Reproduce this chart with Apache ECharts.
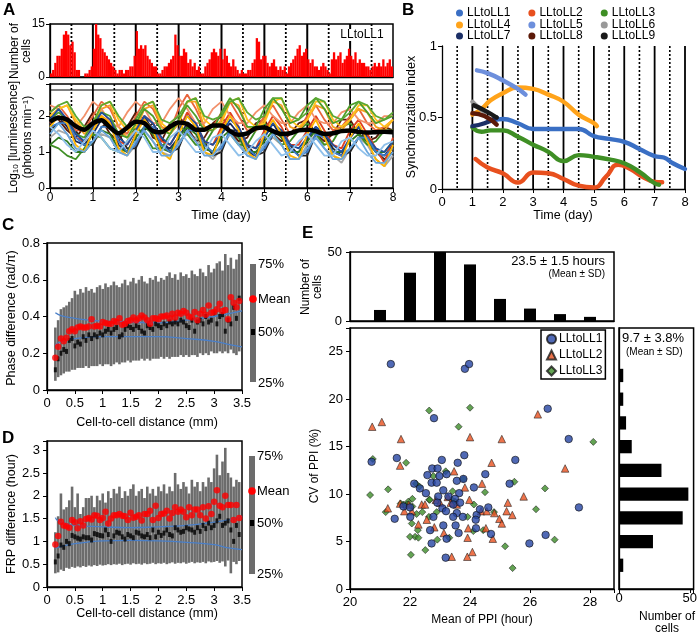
<!DOCTYPE html>
<html>
<head>
<meta charset="utf-8">
<script src="https://cdn.jsdelivr.net/npm/echarts@6/dist/echarts.min.js"></script>
<style>html,body{margin:0;padding:0;background:#fff;}#chart{width:700px;height:637px;}</style>
</head>
<body>
<div id="chart"></div>
<script>
const F = "'Liberation Sans', Arial, Helvetica, sans-serif";

// ---------------- Panel A ----------------
const solidDaysA = [1,2,3,4,5,6,7];
const dottedDays = [0.5,1.5,2.5,3.5,4.5,5.5,6.5,7.5];
const solidDaysB = [1,2,3,4,5,6,7,8];
const peakBinStart = 0.025, peakBinWidth = 0.05;
const peakCounts = [
  1,2,4,6,6,8,12,13,12,9,10,7,2,2,0,0,1,1,2,3,
  8,15,12,11,8,7,6,5,4,3,2,1,2,2,1,2,2,3,3,6,
  13,8,9,8,9,6,5,4,3,3,1,1,2,3,3,4,5,6,12,9,
  6,6,8,7,4,5,3,4,2,3,1,1,3,4,5,7,8,7,6,8,
  5,8,6,4,3,5,3,2,1,2,1,1,2,2,4,5,11,10,5,6,
  6,4,3,4,5,3,2,3,2,3,1,3,4,5,6,8,9,6,7,8,
  5,4,5,3,3,2,3,4,3,2,1,5,7,5,6,7,4,5,6,8,
  6,5,7,4,5,4,4,3,3,2,3,4,3,4,3,5,3,4,5,3
];
const traceStep = 0.2;
const trGray = [1.4,1.6,1.5,1.1,1.0,1.3,1.5,1.4,1.0,0.9,1.2,1.6,1.3,1.0,0.9,1.3,1.5,1.4,1.0,0.8,1.1,1.5,1.3,0.9,0.9,1.2,1.4,1.2,0.8,0.8,1.2,1.5,1.1,0.9,0.7,1.1,1.4,1.2,0.8,0.6,0.9];
const trBlack = [1.6,1.8,1.9,1.6,1.2,1.2,1.7,1.8,1.5,1.1,1.1,1.6,1.8,1.4,1.0,1.1,1.7,1.7,1.3,0.9,1.0,1.6,1.6,1.2,0.9,1.0,1.5,1.6,1.2,0.9,0.9,1.5,1.5,1.1,0.9,1.0,1.4,1.5,1.0,0.8,1.0];
const trNavy = [1.8,2.0,1.7,1.3,1.2,1.5,1.9,1.8,1.2,1.0,1.5,2.0,1.6,1.2,1.1,1.4,1.8,1.7,1.1,1.0,1.5,1.8,1.5,1.0,0.9,1.4,1.8,1.4,1.0,1.0,1.3,1.7,1.5,1.0,0.9,1.4,1.7,1.3,1.0,0.9,1.2];
const trBrown = [2.0,1.9,1.6,1.4,1.7,2.1,1.9,1.5,1.3,1.7,2.1,1.9,1.4,1.3,1.8,2.0,1.7,1.3,1.4,1.8,2.0,1.6,1.3,1.4,1.8,1.9,1.5,1.3,1.5,1.8,1.9,1.5,1.3,1.5,1.9,1.9,1.5,1.3,1.4,1.7,1.6];
const trDarkBlue = [1.9,2.2,1.9,1.5,1.3,1.7,2.1,1.9,1.4,1.2,1.6,2.0,1.8,1.4,1.2,1.6,2.0,1.8,1.3,1.2,1.5,1.9,1.7,1.2,1.1,1.4,1.8,1.6,1.2,1.1,1.4,1.7,1.5,1.2,1.0,1.4,1.7,1.4,1.1,1.0,1.3];
const trMidBlue = [1.7,1.8,1.8,1.4,1.2,1.3,1.7,1.7,1.3,1.0,1.2,1.7,1.7,1.2,1.0,1.2,1.6,1.6,1.2,1.0,1.1,1.6,1.5,1.1,0.9,1.1,1.5,1.5,1.1,0.9,1.0,1.5,1.4,1.0,0.9,1.1,1.4,1.4,1.0,0.9,1.1];
const trLightBlue = [1.5,1.8,1.5,1.1,1.0,1.3,1.6,1.4,1.0,0.9,1.3,1.6,1.3,0.9,0.9,1.2,1.6,1.3,0.9,0.9,1.2,1.5,1.2,0.9,0.8,1.2,1.5,1.2,0.8,0.8,1.1,1.4,1.1,0.8,0.8,1.1,1.4,1.0,0.7,0.7,1.0];
const trPaleBlue = [1.7,1.5,1.2,1.0,1.3,1.6,1.4,1.1,1.0,1.3,1.6,1.4,1.0,1.0,1.4,1.6,1.3,1.0,1.0,1.4,1.5,1.2,0.9,1.0,1.3,1.5,1.2,0.9,1.0,1.3,1.5,1.2,0.9,0.9,1.3,1.4,1.1,0.9,0.9,1.2,1.3];
const trYellow = [1.7,2.0,1.8,1.2,1.0,1.6,2.0,1.8,1.1,0.9,1.5,1.9,1.6,1.0,0.8,1.5,2.0,1.7,1.0,0.9,1.6,2.0,1.6,1.0,0.8,1.5,1.9,1.5,0.9,0.8,1.5,1.9,1.4,0.9,0.8,1.4,1.8,1.3,0.8,0.6,1.2];
const trGold = [2.0,2.2,2.3,1.9,1.6,1.8,2.3,2.4,1.9,1.6,1.7,2.3,2.4,1.8,1.6,1.8,2.4,2.5,1.9,1.7,1.8,2.4,2.5,1.9,1.7,1.8,2.4,2.5,1.9,1.7,1.9,2.4,2.4,1.9,1.7,1.9,2.3,2.3,1.9,1.7,1.9];
const trDarkGreen = [1.2,1.4,1.3,1.0,1.0,1.3,1.6,1.5,1.1,1.0,1.4,1.7,1.5,1.1,1.0,1.4,1.7,1.5,1.1,1.0,1.4,1.6,1.4,1.0,1.0,1.3,1.6,1.4,1.0,1.0,1.3,1.6,1.4,1.0,1.0,1.3,1.5,1.3,1.0,1.0,1.3];
const trSalmon = [2.1,2.3,2.0,1.6,1.6,2.0,2.4,2.2,1.7,1.5,2.0,2.4,2.2,1.7,1.6,2.2,2.6,2.2,1.7,1.7,2.1,2.4,2.0,1.6,1.6,2.0,2.3,1.9,1.5,1.6,2.0,2.3,1.9,1.6,1.7,2.0,2.2,1.8,1.6,1.7,1.9];
const trOrange = [2.0,2.2,2.3,1.8,1.5,1.7,2.2,2.3,1.7,1.4,1.6,2.2,2.3,1.7,1.5,1.8,2.4,2.4,1.7,1.6,1.9,2.4,2.3,1.7,1.6,1.9,2.4,2.3,1.7,1.6,1.9,2.3,2.2,1.7,1.6,1.9,2.2,2.1,1.7,1.6,1.9];
const trLightSalmon = [2.3,2.2,1.8,1.7,2.0,2.4,2.2,1.8,1.7,2.1,2.4,2.2,1.8,1.8,2.2,2.5,2.2,1.8,1.8,2.2,2.4,2.0,1.8,1.8,2.1,2.3,2.0,1.8,1.8,2.1,2.3,1.9,1.8,1.8,2.1,2.2,1.9,1.8,1.8,2.0,2.0];
const trGreen = [1.9,2.1,1.9,1.5,1.4,1.8,2.1,2.0,1.5,1.4,1.8,2.2,2.0,1.6,1.5,1.9,2.3,2.0,1.6,1.6,2.1,2.5,2.2,1.7,1.7,2.2,2.5,2.2,1.8,1.9,2.3,2.5,2.2,1.8,1.9,2.3,2.4,2.1,1.8,1.9,2.0];
const trGreenHigh = [2.1,2.3,2.4,2.0,1.7,1.8,2.3,2.4,2.0,1.7,1.9,2.3,2.4,1.9,1.8,2.0,2.4,2.5,2.0,1.9,2.0,2.4,2.5,2.1,1.9,2.0,2.5,2.5,2.0,1.9,2.1,2.5,2.4,2.0,1.9,2.1,2.4,2.3,2.0,1.9,2.1];
const trGreenLow = [1.2,1.1,0.9,0.8,1.1,1.5,1.4,1.1,1.0,1.3,1.7,1.5,1.1,1.1,1.5,1.8,1.5,1.2,1.2,1.6,1.8,1.5,1.2,1.2,1.6,1.8,1.5,1.2,1.3,1.6,1.8,1.5,1.2,1.3,1.7,1.8,1.5,1.2,1.3,1.6,1.6];
const trRed = [1.8,2.0,1.8,1.4,1.3,1.7,2.0,1.8,1.3,1.2,1.6,2.0,1.8,1.3,1.2,1.6,2.1,1.8,1.3,1.2,1.7,2.1,1.7,1.2,1.1,1.6,2.0,1.7,1.2,1.2,1.6,2.0,1.6,1.2,1.1,1.6,1.9,1.5,1.1,0.7,1.4];
const traceMean = [1.84,1.95,1.90,1.72,1.62,1.80,1.88,1.68,1.52,1.68,1.84,1.80,1.58,1.55,1.70,1.82,1.78,1.62,1.62,1.74,1.74,1.58,1.48,1.52,1.66,1.68,1.58,1.50,1.52,1.60,1.62,1.58,1.50,1.52,1.58,1.60,1.56,1.54,1.55,1.56,1.55];
const traceSet = [
  [trGray,'#a8a8a8'],[trBlack,'#262626'],[trNavy,'#17285e'],[trBrown,'#5a1c0a'],
  [trGreenLow,'#3f8f25'],[trRed,'#e04020'],[trDarkGreen,'#2f7a1f'],
  [trSalmon,'#e8643c'],[trOrange,'#f4a020'],[trLightSalmon,'#f2906a'],[trGold,'#ffc21a'],
  [trGreen,'#4f9e2a'],[trGreenHigh,'#5aa832'],
  [trDarkBlue,'#1f4e9c'],[trMidBlue,'#3d7cc9'],[trYellow,'#ffb400'],[trLightBlue,'#6aa6dc'],[trPaleBlue,'#8fc0ea']
];

// ---------------- Panel B ----------------
const syncNames = ['LLtoLL1','LLtoLL2','LLtoLL3','LLtoLL4','LLtoLL5','LLtoLL6','LLtoLL7','LLtoLL8','LLtoLL9'];
const syncColors = ['#3a6fc4','#e8501e','#3f8f25','#ffa31a','#6d8fdc','#999999','#1b2f66','#5c1a08','#1a1a1a'];
const syncT1 = [1.7,2.0,2.5,3.0,3.5,4.0,4.5,5.0,5.5,6.0,6.5,7.0,7.3,7.6,8.0];
const syncV1 = [0.48,0.49,0.46,0.42,0.42,0.42,0.42,0.37,0.35,0.33,0.28,0.23,0.22,0.18,0.14];
const syncT2 = [1.1,1.5,2.0,2.5,3.0,3.5,4.0,4.5,5.0,5.4,5.8,6.2,6.6,7.0,7.25];
const syncV2 = [0.21,0.15,0.11,0.045,0.115,0.11,0.07,0.023,0.01,0.086,0.17,0.14,0.086,0.05,0.047];
const syncT3 = [1.0,1.3,1.6,2.0,2.5,3.0,3.5,4.0,4.5,5.0,5.5,6.0,6.5,7.0,7.15];
const syncV3 = [0.43,0.40,0.41,0.41,0.365,0.31,0.26,0.195,0.237,0.225,0.207,0.18,0.12,0.04,0.03];
const syncT4 = [1.0,1.3,1.6,2.0,2.5,3.0,3.5,4.0,4.5,5.0,5.1];
const syncV4 = [0.52,0.56,0.62,0.67,0.71,0.70,0.66,0.61,0.52,0.46,0.44];
const syncT5 = [1.15,1.5,2.0,2.5,2.75];
const syncV5 = [0.83,0.81,0.76,0.70,0.66];
const syncT6 = [1.0,1.2,1.4];
const syncV6 = [0.61,0.57,0.54];
const syncT7 = [1.0,1.4,1.8];
const syncV7 = [0.44,0.46,0.50];
const syncT8 = [1.0,1.4,1.8];
const syncV8 = [0.53,0.51,0.45];
const syncT9 = [1.05,1.4,1.8];
const syncV9 = [0.585,0.55,0.50];
const syncT = [syncT1,syncT2,syncT3,syncT4,syncT5,syncT6,syncT7,syncT8,syncT9];
const syncV = [syncV1,syncV2,syncV3,syncV4,syncV5,syncV6,syncV7,syncV8,syncV9];

// ---------------- Panels C / D ----------------
const distStart = 0.15, distStep = 0.05;
const phaseMean = [0.175,0.235,0.28,0.265,0.285,0.32,0.33,0.32,0.34,0.345,0.34,0.34,0.345,0.385,0.345,0.35,0.345,0.37,0.365,0.36,0.36,0.375,0.37,0.39,0.355,0.36,0.375,0.38,0.395,0.38,0.39,0.405,0.395,0.38,0.36,0.39,0.39,0.385,0.40,0.40,0.405,0.39,0.415,0.395,0.42,0.415,0.43,0.42,0.40,0.395,0.425,0.38,0.415,0.435,0.41,0.46,0.42,0.425,0.44,0.47,0.43,0.435,0.385,0.505,0.475,0.45,0.485];
const phaseMedian = [0.11,0.17,0.20,0.22,0.21,0.27,0.28,0.24,0.26,0.25,0.29,0.27,0.30,0.28,0.30,0.29,0.31,0.30,0.32,0.33,0.31,0.33,0.34,0.29,0.30,0.33,0.35,0.34,0.33,0.35,0.34,0.32,0.31,0.35,0.34,0.33,0.36,0.35,0.34,0.36,0.35,0.37,0.36,0.37,0.36,0.38,0.37,0.35,0.34,0.38,0.32,0.37,0.38,0.36,0.40,0.37,0.38,0.42,0.36,0.40,0.41,0.32,0.38,0.36,0.45,0.39,0.50];
const phaseQ25 = [0.05,0.07,0.08,0.09,0.10,0.10,0.11,0.11,0.12,0.12,0.12,0.13,0.12,0.13,0.13,0.13,0.14,0.13,0.14,0.14,0.13,0.14,0.15,0.14,0.15,0.15,0.16,0.15,0.16,0.16,0.16,0.17,0.16,0.17,0.16,0.17,0.17,0.17,0.18,0.17,0.18,0.17,0.18,0.18,0.18,0.19,0.18,0.19,0.18,0.19,0.19,0.18,0.20,0.19,0.20,0.19,0.21,0.20,0.20,0.21,0.20,0.21,0.20,0.22,0.20,0.19,0.21];
const phaseQ75 = [0.34,0.38,0.44,0.45,0.46,0.48,0.50,0.54,0.52,0.55,0.53,0.56,0.54,0.55,0.53,0.56,0.57,0.55,0.58,0.56,0.57,0.59,0.57,0.56,0.58,0.60,0.57,0.59,0.61,0.58,0.60,0.62,0.59,0.58,0.61,0.60,0.62,0.59,0.61,0.60,0.62,0.64,0.61,0.63,0.60,0.64,0.62,0.63,0.61,0.65,0.63,0.62,0.66,0.64,0.62,0.68,0.64,0.66,0.69,0.70,0.65,0.74,0.68,0.72,0.66,0.71,0.74];
const phaseUpperX = [0.15,0.25,0.5,0.75,1.0,1.5,2.0,2.5,3.0,3.5];
const phaseUpperY = [0.42,0.405,0.39,0.38,0.375,0.37,0.365,0.38,0.40,0.43];
const phaseLowerX = [0.15,0.3,0.5,1.0,1.5,2.0,2.5,3.0,3.3,3.5];
const phaseLowerY = [0.245,0.27,0.28,0.29,0.29,0.29,0.28,0.265,0.245,0.235];

const frpMean = [0.93,1.12,1.43,1.35,1.33,1.30,1.47,1.42,1.29,1.44,1.35,1.49,1.51,1.48,1.57,1.56,1.47,1.51,1.65,1.39,1.50,1.57,1.57,1.60,1.56,1.55,1.47,1.63,1.52,1.54,1.57,1.46,1.60,1.60,1.67,1.47,1.78,1.51,1.60,1.61,1.67,1.50,1.62,1.75,1.65,1.70,1.65,1.53,1.75,1.57,1.70,1.70,1.57,1.75,1.50,1.77,1.60,1.87,2.12,1.78,1.75,2.00,1.80,1.80,1.47,1.80,1.51];
const frpMedian = [0.55,0.68,0.92,0.87,1.00,0.95,1.13,1.10,1.07,1.05,1.10,1.08,1.08,1.03,1.17,1.15,1.13,1.12,1.25,1.15,1.00,1.12,1.20,1.18,1.10,1.05,1.15,1.12,1.08,1.20,1.18,1.12,1.10,1.15,1.08,1.25,1.10,1.20,1.13,1.18,1.25,1.15,1.12,1.30,1.25,1.20,1.22,1.30,1.27,1.25,1.20,1.30,1.22,1.35,1.28,1.40,1.30,1.35,1.45,1.55,1.35,1.40,1.45,1.25,1.00,1.35,1.15];
const frpQ25 = [0.30,0.32,0.38,0.35,0.42,0.40,0.44,0.42,0.45,0.43,0.46,0.44,0.47,0.45,0.48,0.46,0.49,0.47,0.48,0.50,0.48,0.50,0.49,0.51,0.48,0.50,0.51,0.49,0.52,0.50,0.51,0.49,0.52,0.50,0.51,0.53,0.50,0.52,0.51,0.53,0.50,0.52,0.54,0.51,0.53,0.52,0.54,0.51,0.53,0.55,0.52,0.54,0.53,0.55,0.52,0.56,0.54,0.55,0.57,0.53,0.56,0.45,0.58,0.30,0.55,0.50,0.57];
const frpQ75 = [1.20,1.55,2.05,1.70,1.75,1.90,2.20,1.75,2.05,1.60,1.75,1.95,1.95,2.00,1.75,2.00,1.90,2.05,1.85,2.10,1.95,2.15,2.05,2.20,1.95,2.10,2.00,2.15,2.25,2.00,2.10,2.15,1.95,2.20,2.05,2.15,2.00,2.20,2.10,2.25,2.05,2.20,2.10,2.50,2.25,2.15,2.30,2.20,2.05,2.35,2.20,2.30,2.10,2.30,2.20,2.40,2.30,2.60,2.90,2.45,2.75,3.05,2.50,2.40,2.20,2.35,2.30];
const frpUpperX = [0.15,0.2,0.5,1.0,1.5,2.0,2.5,3.0,3.3,3.5];
const frpUpperY = [1.52,1.45,1.35,1.32,1.30,1.32,1.35,1.42,1.48,1.55];
const frpLowerX = [0.15,0.3,0.5,0.7,1.0,1.5,2.0,2.5,3.0,3.2,3.5];
const frpLowerY = [0.85,0.90,0.95,0.98,1.01,1.02,1.01,0.98,0.93,0.87,0.82];

// ---------------- Panel E ----------------
const ppiBins = [21,22,23,24,25,26,27,28];
const ppiCounts = [8,35,50,41,16,9,5,3];
const cvBins = [2.5,5,7.5,10,12.5,15,17.5,20,22.5];
const cvCounts = [3,24,45,49,30,9,5,3,3];
const scatterLL1 = [[21.36,23.7],[23.83,23.2],[23.97,23.7],[26.59,19.0],[22.80,18.0],[27.29,15.8],[20.72,13.4],[21.56,13.8],[23.81,14.1],[23.59,13.3],[23.06,13.6],[25.51,13.6],[22.74,12.7],[22.92,12.7],[22.58,12.0],[22.98,11.9],[23.22,12.1],[24.51,12.1],[22.72,11.2],[22.89,11.2],[23.56,11.4],[23.78,11.6],[22.14,11.1],[22.33,10.6],[22.53,10.1],[23.11,10.4],[23.64,10.1],[24.13,10.7],[25.32,11.1],[22.94,9.75],[23.28,9.75],[23.50,9.5],[23.67,9.1],[23.44,8.9],[22.91,9.1],[23.08,8.5],[22.78,7.6],[23.20,8.2],[23.56,8.0],[21.78,8.7],[22.00,8.6],[22.01,7.6],[21.49,7.4],[24.22,7.8],[24.33,8.4],[24.19,7.3],[23.44,7.6],[23.76,7.6],[24.61,8.6],[22.67,6.2],[23.11,6.7],[23.52,6.7],[23.62,5.9],[24.20,6.4],[24.70,5.8],[22.72,4.8],[23.22,5.3],[23.19,3.3],[25.98,4.8],[26.52,5.7],[27.63,8.6]];
const scatterLL2 = [[20.74,17.1],[21.06,17.6],[21.70,15.8],[21.67,13.0],[24.00,16.0],[25.06,15.8],[26.26,18.4],[27.17,12.7],[24.72,13.3],[23.47,12.4],[23.83,10.7],[24.40,11.1],[23.98,9.4],[25.79,9.75],[25.26,9.1],[22.39,8.9],[21.67,9.0],[21.81,8.2],[21.26,8.5],[22.06,8.2],[22.86,9.4],[23.26,9.7],[23.00,9.1],[23.36,9.1],[23.56,8.9],[24.37,8.2],[24.56,8.2],[24.81,8.0],[25.22,8.2],[25.41,7.8],[24.98,7.4],[25.06,6.9],[22.28,6.8],[22.56,7.3],[22.81,6.5],[23.94,6.4],[24.53,6.4],[23.13,5.9],[23.92,5.4],[24.76,5.3],[23.39,3.4],[23.91,3.4],[24.08,3.9],[22.50,8.9],[21.96,8.9]];
const scatterLL3 = [[22.64,18.8],[24.00,19.1],[23.62,17.1],[28.11,15.5],[21.87,13.3],[20.76,13.7],[20.67,9.9],[21.27,10.5],[21.19,8.1],[22.20,11.1],[22.31,10.8],[23.19,12.4],[22.78,11.9],[23.78,11.6],[23.42,10.3],[24.50,10.2],[25.48,11.3],[26.50,10.6],[26.20,8.4],[26.82,5.2],[25.17,4.5],[25.42,2.2],[22.08,9.5],[21.94,9.2],[21.91,8.9],[22.08,8.7],[21.78,8.9],[22.22,7.9],[22.41,8.1],[22.64,9.4],[22.89,8.1],[22.63,7.6],[22.06,6.9],[22.26,6.2],[22.17,5.5],[22.00,5.5],[22.28,5.4],[22.91,5.2],[23.31,5.4],[22.51,4.1],[22.03,3.6],[23.92,7.6],[24.11,6.1],[24.44,6.2],[24.80,8.1],[23.50,9.2],[23.39,9.4],[24.13,8.9],[22.66,9.4],[21.69,9.0]];

// ================= helpers =================
function only(list) {
  return function (v) {
    for (const u of list) if (Math.abs(u - v) < 1e-6) return String(Math.round(v * 100) / 100);
    return '';
  };
}
function axis(gi, o) {
  return {
    gridIndex: gi, type: 'value', min: o.min, max: o.max, interval: o.interval,
    axisLine: {show: true, onZero: false, lineStyle: {color: '#000', width: 1.3}},
    axisTick: {show: o.tick !== false, length: 4, inside: false, lineStyle: {color: '#000', width: 1}},
    axisLabel: {show: o.labels !== false, color: '#000', fontSize: o.fs || 13, fontFamily: F, margin: o.margin == null ? 6 : o.margin,
                formatter: o.show ? only(o.show) : undefined},
    splitLine: {show: false}
  };
}
// reference day lines drawn behind data, positioned through the axis scale
function dayLines(ai, days, dashed, w) {
  return {
    type: 'custom', xAxisIndex: ai, yAxisIndex: ai, silent: true, z: 1, clip: false,
    data: days.map(d => [d, 0]), encode: {x: 0, y: 1},
    renderItem: function (p, api) {
      const cs = p.coordSys;
      const x = api.coord([api.value(0), 0])[0];
      return {type: 'line', shape: {x1: x, y1: cs.y, x2: x, y2: cs.y + cs.height},
              style: {stroke: '#000', lineWidth: w, lineDash: dashed ? [2, 2] : null}};
    }
  };
}
function T(x, y, text, size, opt) {
  opt = opt || {};
  const font = (opt.bold ? 'bold ' : '') + size + 'px ' + F;
  const al = opt.align || 'center', va = opt.va || 'middle';
  const st = {text: text, font: font, fill: '#000', align: al, verticalAlign: va, textAlign: al, textVerticalAlign: va};
  if (opt.rich) st.rich = opt.rich;
  if (opt.bg) { st.backgroundColor = opt.bg; st.padding = [0, 1]; }
  return {type: 'text', x: x, y: y, z: 100, silent: true, rotation: opt.rot ? Math.PI / 2 : 0, style: st};
}
function iqr(ai, dist, lo, hi) {
  return {
    type: 'custom', xAxisIndex: ai, yAxisIndex: ai, silent: true, z: 2,
    data: dist.map((d, i) => [d, lo[i], hi[i]]), encode: {x: 0, y: [1, 2]},
    renderItem: function (p, api) {
      const a = api.coord([api.value(0), api.value(2)]);
      const b = api.coord([api.value(0), api.value(1)]);
      return {type: 'rect', shape: {x: a[0] - 1.3, y: a[1], width: 2.6, height: b[1] - a[1]}, style: {fill: '#6c6c6c'}};
    }
  };
}
const zip = (xs, ys) => xs.map((x, i) => [x, ys[i]]);
const distC = phaseMean.map((_, i) => distStart + i * distStep);
const distD = frpMean.map((_, i) => distStart + i * distStep);

// ================= grids & axes =================
const frame = {show: true, borderColor: '#000', borderWidth: 1.5, backgroundColor: 'transparent'};
const grids = [
  Object.assign({left: 50, top: 24, width: 343, height: 53}, frame),     // 0 A top
  Object.assign({left: 50, top: 84, width: 343, height: 104}, frame),    // 1 A bottom
  {left: 442, top: 46, width: 243, height: 143, show: false},             // 2 B
  Object.assign({left: 47, top: 243, width: 195, height: 147}, frame),   // 3 C
  Object.assign({left: 47, top: 441, width: 195, height: 146}, frame),   // 4 D
  Object.assign({left: 350, top: 252, width: 264, height: 69}, frame),   // 5 E top hist
  Object.assign({left: 350, top: 328, width: 264, height: 261}, frame),  // 6 E scatter
  Object.assign({left: 619, top: 328, width: 79, height: 261}, frame)    // 7 E right hist
];
const xAxes = [
  axis(0, {min: 0, max: 8, interval: 1, labels: false, tick: false}),
  axis(1, {min: 0, max: 8, interval: 1, fs: 12, margin: 4}),
  axis(2, {min: 0, max: 8, interval: 1, margin: 7}),
  axis(3, {min: 0, max: 3.5, interval: 0.5, margin: 7}),
  axis(4, {min: 0, max: 3.5, interval: 0.5, margin: 7}),
  axis(5, {min: 20, max: 28.8, interval: 2, labels: false, tick: false}),
  axis(6, {min: 20, max: 28.8, interval: 2, margin: 7, show: [20, 22, 24, 26, 28]}),
  axis(7, {min: 0, max: 52.7, interval: 50, margin: 3, show: [0, 50]})
];
const yAxes = [
  axis(0, {min: 0, max: 15, interval: 15, fs: 12, margin: 5}),
  axis(1, {min: 0, max: 2.89, interval: 1, fs: 12, margin: 5, show: [0, 1, 2]}),
  axis(2, {min: 0, max: 1, interval: 0.5, margin: 5}),
  axis(3, {min: 0, max: 0.8, interval: 0.2, margin: 7}),
  axis(4, {min: 0, max: 3.2, interval: 0.5, margin: 7, show: [0, 0.5, 1, 1.5, 2, 2.5, 3]}),
  axis(5, {min: 0, max: 50, interval: 50, margin: 8}),
  axis(6, {min: 0, max: 27.5, interval: 5, margin: 7, show: [0, 5, 10, 15, 20, 25]}),
  axis(7, {min: 0, max: 27.5, interval: 5, labels: false, tick: false})
];

// ================= series =================
const series = [];
series.push(dayLines(0, solidDaysA, false, 2), dayLines(0, dottedDays, true, 1.8));
series.push(dayLines(1, solidDaysA, false, 1.8), dayLines(1, dottedDays, true, 1.6));
series.push(dayLines(2, solidDaysB, false, 1.8), dayLines(2, dottedDays, true, 1.6));
series.push({
  type: 'bar', xAxisIndex: 0, yAxisIndex: 0, barWidth: 2.3, z: 2,
  itemStyle: {color: '#ff0000'},
  data: peakCounts.map((v, i) => [peakBinStart + i * peakBinWidth, v])
});
traceSet.forEach(tr => {
  series.push({
    type: 'line', xAxisIndex: 1, yAxisIndex: 1, showSymbol: false, symbol: 'none', z: 2,
    lineStyle: {color: tr[1], width: 1.8}, data: tr[0].map((v, i) => [i * traceStep, v])
  });
});
series.push({
  type: 'line', xAxisIndex: 1, yAxisIndex: 1, showSymbol: false, symbol: 'none', smooth: 0.3, z: 4,
  lineStyle: {color: '#000', width: 4.5}, data: traceMean.map((v, i) => [i * traceStep, v])
});
syncNames.forEach((n, k) => {
  series.push({
    name: n, type: 'line', xAxisIndex: 2, yAxisIndex: 2, smooth: true, showSymbol: false, symbol: 'circle', z: 3 + (k >= 5 ? 1 : 0),
    itemStyle: {color: syncColors[k]}, lineStyle: {color: syncColors[k], width: 4.4, cap: 'round'},
    data: zip(syncT[k], syncV[k])
  });
});
series.push(iqr(3, distC, phaseQ25, phaseQ75));
series.push({type: 'line', xAxisIndex: 3, yAxisIndex: 3, smooth: true, showSymbol: false, symbol: 'none', z: 3, lineStyle: {color: '#4a7fc8', width: 1.3}, data: zip(phaseUpperX, phaseUpperY)});
series.push({type: 'line', xAxisIndex: 3, yAxisIndex: 3, smooth: true, showSymbol: false, symbol: 'none', z: 3, lineStyle: {color: '#4a7fc8', width: 1.3}, data: zip(phaseLowerX, phaseLowerY)});
series.push({type: 'scatter', xAxisIndex: 3, yAxisIndex: 3, symbol: 'rect', symbolSize: [3, 5], z: 4, itemStyle: {color: '#000'}, data: zip(distC, phaseMedian)});
series.push({type: 'scatter', xAxisIndex: 3, yAxisIndex: 3, symbol: 'circle', symbolSize: 6.5, z: 5, itemStyle: {color: '#ff0000'}, data: zip(distC, phaseMean)});
series.push(iqr(4, distD, frpQ25, frpQ75));
series.push({type: 'line', xAxisIndex: 4, yAxisIndex: 4, smooth: true, showSymbol: false, symbol: 'none', z: 3, lineStyle: {color: '#4a7fc8', width: 1.3}, data: zip(frpUpperX, frpUpperY)});
series.push({type: 'line', xAxisIndex: 4, yAxisIndex: 4, smooth: true, showSymbol: false, symbol: 'none', z: 3, lineStyle: {color: '#4a7fc8', width: 1.3}, data: zip(frpLowerX, frpLowerY)});
series.push({type: 'scatter', xAxisIndex: 4, yAxisIndex: 4, symbol: 'rect', symbolSize: [3, 5], z: 4, itemStyle: {color: '#000'}, data: zip(distD, frpMedian)});
series.push({type: 'scatter', xAxisIndex: 4, yAxisIndex: 4, symbol: 'circle', symbolSize: 6.5, z: 5, itemStyle: {color: '#ff0000'}, data: zip(distD, frpMean)});
series.push({type: 'bar', xAxisIndex: 5, yAxisIndex: 5, barWidth: 12, itemStyle: {color: '#000'}, data: zip(ppiBins, ppiCounts)});
series.push({name: 'LLtoLL3 ', type: 'scatter', xAxisIndex: 6, yAxisIndex: 6, symbol: 'diamond', symbolSize: 7, z: 3,
  itemStyle: {color: '#3c8c28', borderColor: '#1a1a1a', borderWidth: 0.7}, data: scatterLL3});
series.push({name: 'LLtoLL2 ', type: 'scatter', xAxisIndex: 6, yAxisIndex: 6, symbol: 'triangle', symbolSize: 7.5, z: 4,
  itemStyle: {color: '#e8501e', borderColor: '#1a1a1a', borderWidth: 0.7}, data: scatterLL2});
series.push({name: 'LLtoLL1 ', type: 'scatter', xAxisIndex: 6, yAxisIndex: 6, symbol: 'circle', symbolSize: 7.5, z: 5,
  itemStyle: {color: '#2443a3', borderColor: '#111', borderWidth: 0.8}, data: scatterLL1});
series.push({
  type: 'custom', xAxisIndex: 7, yAxisIndex: 7, silent: true,
  data: cvBins.map((c, i) => [cvCounts[i], c]), encode: {x: 0, y: 1},
  renderItem: function (p, api) {
    const h = api.size([0, 1.4])[1];
    const a = api.coord([0, api.value(1)]);
    const b = api.coord([api.value(0), api.value(1)]);
    return {type: 'rect', shape: {x: a[0], y: a[1] - h / 2, width: b[0] - a[0], height: h}, style: {fill: '#000'}};
  }
});

// ================= legends =================
const legB = (names, top) => ({
  data: names, left: 456, top: top, orient: 'horizontal', itemGap: 18, itemWidth: 7, itemHeight: 7, icon: 'circle',
  padding: 0, selectedMode: false, textStyle: {fontSize: 12, fontFamily: F, color: '#000', padding: [0, 0, 0, -1]}
});
const legends = [
  legB(['LLtoLL1', 'LLtoLL2', 'LLtoLL3'], 7),
  legB(['LLtoLL4', 'LLtoLL5', 'LLtoLL6'], 19),
  legB(['LLtoLL7', 'LLtoLL8', 'LLtoLL9'], 30),
  {data: ['LLtoLL1 ', 'LLtoLL2 ', 'LLtoLL3 '], orient: 'vertical', left: 541, top: 330, selectedMode: false,
   borderColor: '#000', borderWidth: 1.5, backgroundColor: '#fff', padding: [3, 3, 2, 5], itemGap: 4, itemWidth: 9, itemHeight: 9,
   formatter: n => n.trim(), textStyle: {fontSize: 12, fontFamily: F, color: '#000', padding: [0, 0, 0, -2]}}
];

// ================= graphic texts =================
const subRich = {a: {font: '12px ' + F}, b: {font: '8px ' + F, verticalAlign: 'bottom', padding: [4, 0, 0, 0]}, c: {font: '8px ' + F, verticalAlign: 'top'}};
const gfx = [
  T(3, 2, 'A', 17, {bold: true, align: 'left', va: 'top'}),
  T(402, 2, 'B', 17, {bold: true, align: 'left', va: 'top'}),
  T(2, 217, 'C', 17, {bold: true, align: 'left', va: 'top'}),
  T(2, 430, 'D', 17, {bold: true, align: 'left', va: 'top'}),
  T(302, 225, 'E', 17, {bold: true, align: 'left', va: 'top'}),
  T(21, 51, 'Number of\ncells', 12, {rot: true}),
  T(14, 137, '{a|Log}{b|10}{a| [luminescence]}', 12, {rot: true, rich: subRich}),
  T(28, 137, '{a|(photons min}{c|−1}{a|)}', 12, {rot: true, rich: subRich}),
  T(221, 216, 'Time (day)', 12.5),
  T(362, 35, 'LLtoLL1', 12, {bg: '#fff'}),
  T(412, 117, 'Synchronization index', 12.5, {rot: true}),
  T(563, 216, 'Time (day)', 12.5),
  T(12, 318, 'Phase difference (rad/π)', 12.5, {rot: true}),
  T(147, 423, 'Cell-to-cell distance (mm)', 12.5),
  T(12, 514, 'FRP difference (hour)', 12.5, {rot: true}),
  T(147, 614, 'Cell-to-cell distance (mm)', 12.5),
  T(312, 287, 'Number of\ncells', 12, {rot: true}),
  T(315, 466, 'CV of PPI (%)', 12, {rot: true}),
  T(482, 620, 'Mean of PPI (hour)', 12),
  T(667, 623, 'Number of\ncells', 12),
  T(605, 261, '23.5 ± 1.5 hours', 13, {align: 'right'}),
  T(605, 274, '(Mean ± SD)', 10, {align: 'right'}),
  T(622, 338, '9.7 ± 3.8%', 13, {align: 'left'}),
  T(626, 352, '(Mean ± SD)', 10, {align: 'left'}),
  {type: 'rect', z: 100, silent: true, shape: {x: 250, y: 264, width: 6, height: 118}, style: {fill: '#6c6c6c'}},
  {type: 'circle', z: 101, silent: true, shape: {cx: 253, cy: 299, r: 3.8}, style: {fill: '#ff0000'}},
  {type: 'rect', z: 101, silent: true, shape: {x: 251, y: 329, width: 4, height: 6}, style: {fill: '#000'}},
  T(258, 264, '75%', 13, {align: 'left'}),
  T(258, 299, 'Mean', 13, {align: 'left'}),
  T(258, 332, '50%', 13, {align: 'left'}),
  T(258, 383, '25%', 13, {align: 'left'}),
  {type: 'rect', z: 100, silent: true, shape: {x: 249, y: 456, width: 6, height: 118}, style: {fill: '#6c6c6c'}},
  {type: 'circle', z: 101, silent: true, shape: {cx: 252, cy: 491, r: 3.8}, style: {fill: '#ff0000'}},
  {type: 'rect', z: 101, silent: true, shape: {x: 250, y: 520, width: 4, height: 6}, style: {fill: '#000'}},
  T(257, 456, '75%', 13, {align: 'left'}),
  T(257, 491, 'Mean', 13, {align: 'left'}),
  T(257, 523, '50%', 13, {align: 'left'}),
  T(257, 574, '25%', 13, {align: 'left'}),
  {type: 'line', z: 100, silent: true, shape: {x1: 50, y1: 90, x2: 393, y2: 90}, style: {stroke: '#000', lineWidth: 1.2}}
];

const chart = echarts.init(document.getElementById('chart'), null, {renderer: 'canvas'});
chart.setOption({
  animation: false,
  backgroundColor: '#fff',
  textStyle: {fontFamily: F},
  grid: grids, xAxis: xAxes, yAxis: yAxes,
  legend: legends,
  series: series,
  graphic: {elements: gfx}
});
</script>
</body>
</html>
